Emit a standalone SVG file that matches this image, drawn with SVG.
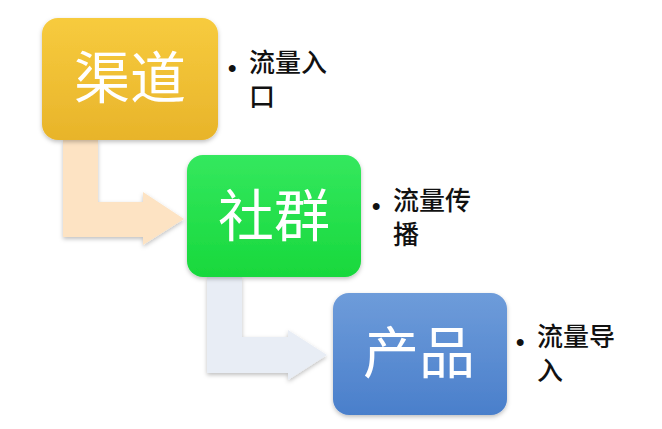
<svg xmlns="http://www.w3.org/2000/svg" width="662" height="429" viewBox="0 0 662 429">
<defs>
<linearGradient id="gY" x1="0" y1="0" x2="0" y2="1"><stop offset="0" stop-color="#F7CB3E"/><stop offset="1" stop-color="#E8B42A"/></linearGradient>
<linearGradient id="gG" x1="0" y1="0" x2="0" y2="1"><stop offset="0" stop-color="#34E85E"/><stop offset="1" stop-color="#18D83C"/></linearGradient>
<linearGradient id="gB" x1="0" y1="0" x2="0" y2="1"><stop offset="0" stop-color="#6E9CDA"/><stop offset="1" stop-color="#4A7FCB"/></linearGradient>
<filter id="sh" x="-10%" y="-10%" width="120%" height="125%"><feDropShadow dx="0" dy="2" stdDeviation="2" flood-color="#000" flood-opacity="0.25"/></filter>
</defs>
<style>
.box{filter:url(#sh)}
.big{font-family:"Noto Sans CJK SC","Noto Sans",sans-serif;font-size:56px;fill:#fff;text-anchor:middle}
.note{font-family:"Liberation Sans","Noto Sans CJK SC",sans-serif;font-size:26px;font-weight:500;fill:#111}
.dot{font-family:"Liberation Sans",Arial,sans-serif;font-size:24px;font-weight:bold;fill:#111}
</style>
<rect width="662" height="429" fill="#fff"/>
<g id="connectors">
<path d="M63,140 L98,140 L98,202 L143,202 L143,192 L184,219 L143,245 L143,237 L63,237 Z" fill="#FDE3C3" filter="url(#sh)"/>
<path d="M207,277 L242,277 L242,337 L288,337 L288,330 L327,355 L288,380 L288,373 L207,373 Z" fill="#E8EDF5" filter="url(#sh)"/>
</g>
<g id="node-qudao">
<rect class="box" x="42" y="18" width="176" height="122" rx="16" fill="url(#gY)"/>
<text class="big" x="130" y="98">渠道</text>
</g>
<g id="node-shequn">
<rect class="box" x="187" y="155" width="174" height="122" rx="16" fill="url(#gG)"/>
<text class="big" x="274" y="236">社群</text>
</g>
<g id="node-chanpin">
<rect class="box" x="333" y="293" width="174" height="122" rx="16" fill="url(#gB)"/>
<text class="big" x="419" y="373">产品</text>
</g>
<g id="note-1">
<text class="dot" x="228" y="76">•</text>
<text class="note" x="249" y="72">流量入</text>
<text class="note" x="249" y="106">口</text>
</g>
<g id="note-2">
<text class="dot" x="372" y="214">•</text>
<text class="note" x="393" y="210">流量传</text>
<text class="note" x="393" y="244">播</text>
</g>
<g id="note-3">
<text class="dot" x="516" y="350">•</text>
<text class="note" x="537" y="346">流量导</text>
<text class="note" x="537" y="380">入</text>
</g>
</svg>
